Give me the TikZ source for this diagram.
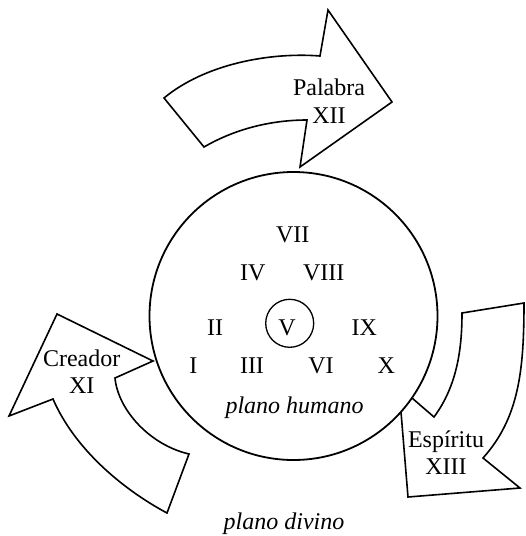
\documentclass[tikz,border=0pt]{standalone}
\usepackage{fontspec}
\setmainfont{Liberation Serif}
\begin{document}
\begin{tikzpicture}[x=1pt,y=-1pt,
  band/.style={draw=black,line width=1.6pt,line join=miter,fill=white},
  lab/.style={inner sep=0pt,font=\fontsize{24}{27.6}\selectfont},
  two/.style={lab,align=center}]
\useasboundingbox (0,0) rectangle (526,536);
% top arrow
\draw[band] (204,147) -- (164,98)
  .. controls (205,64) and (270,52) .. (320,56)
  -- (328,10) -- (392,102) -- (300,167) -- (307,120)
  .. controls (271,120) and (235,129) .. (204,147) -- cycle;
% left arrow
\draw[band] (57,314) -- (153,361) -- (115,378)
  .. controls (118,410) and (150,445) .. (189,454)
  -- (167,513)
  .. controls (120.4,488) and (74,447.5) .. (53,399)
  -- (9,416) -- cycle;
% right arrow
\draw[band] (412,398) -- (434,417)
  .. controls (457,386) and (462,349) .. (462,313)
  -- (524,303)
  .. controls (524,370) and (519,418) .. (483,458)
  -- (520,488) -- (408,497) -- (401,412);
% circles
\node[draw,circle,line width=1.8pt,minimum size=288pt,inner sep=0pt] (big) at (293.5,316) {};
\node[draw,circle,line width=1.3pt,minimum size=48pt,inner sep=0pt] (small) at (289.7,323.3) {};
% labels
\node[lab,anchor=base] (n7) at (292.7,242.7) {VII};
\node[lab,anchor=base] (n4) at (252.7,280) {IV};
\node[lab,anchor=base] (n8) at (323.7,280) {VIII};
\node[lab,anchor=base] (n2) at (215,335.3) {II};
\node[lab,anchor=base] (n5) at (287,335.3) {V};
\node[lab,anchor=base] (n9) at (364.3,335.3) {IX};
\node[lab,anchor=base] (n1) at (193.3,373.3) {I};
\node[lab,anchor=base] (n3) at (252,373.3) {III};
\node[lab,anchor=base] (n6) at (321,373.3) {VI};
\node[lab,anchor=base] (n10) at (386.3,373.3) {X};
\node[lab,anchor=base] (ph) at (294.5,413.3) {\itshape plano humano};
\node[lab,anchor=base] (pd) at (284,529) {\itshape plano divino};
\node[two] (pal) at (329,101.3) {Palabra\\XII};
\node[two] (cre) at (81.7,371.8) {Creador\\XI};
\node[two] (esp) at (446,452.7) {Espíritu\\XIII};
\end{tikzpicture}
\end{document}
